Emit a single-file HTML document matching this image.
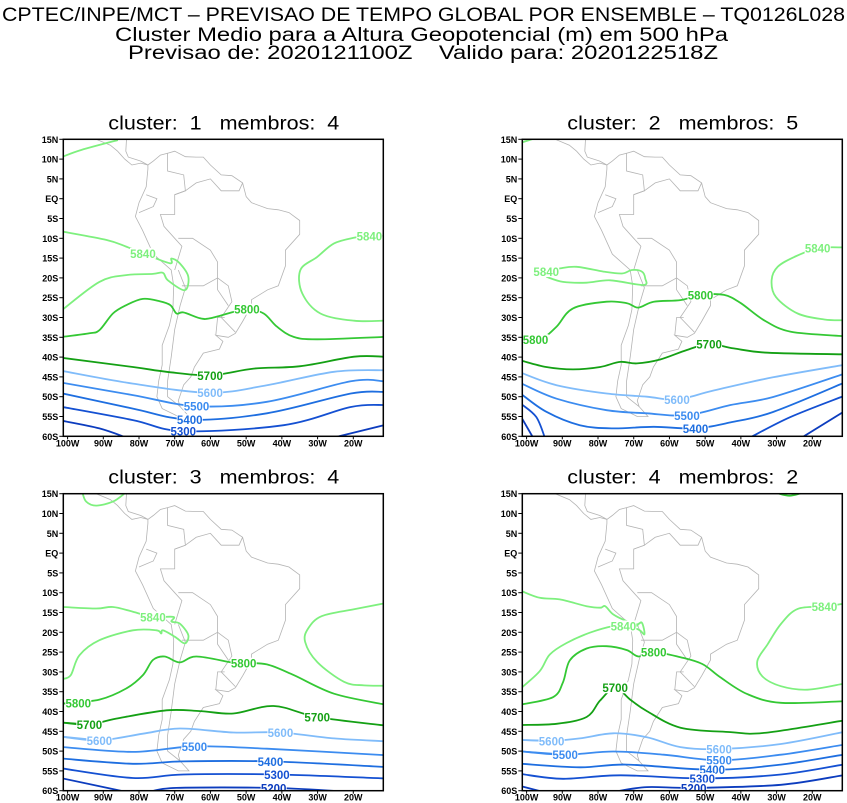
<!DOCTYPE html>
<html><head><meta charset="utf-8">
<style>
body{margin:0;background:#fff;}
svg{display:block;font-family:"Liberation Sans",sans-serif;}
</style></head>
<body>
<svg id="chart" width="847" height="803" viewBox="0 0 847 803" xmlns="http://www.w3.org/2000/svg">
<rect width="847" height="803" fill="#fff"/>
<g font-size="19" fill="#000">
<text x="2" y="21" textLength="843" lengthAdjust="spacingAndGlyphs">CPTEC/INPE/MCT – PREVISAO DE TEMPO GLOBAL POR ENSEMBLE – TQ0126L028</text>
<text x="115" y="41" textLength="613" lengthAdjust="spacingAndGlyphs">Cluster Medio para a Altura Geopotencial (m) em 500 hPa</text>
<text x="128" y="59" textLength="590" lengthAdjust="spacingAndGlyphs" xml:space="preserve" style="white-space:pre">Previsao de: 2020121100Z    Valido para: 2020122518Z</text>
</g>
<g id="panels"></g>
</svg>
<script>
const latTicks = [15,10,5,0,-5,-10,-15,-20,-25,-30,-35,-40,-45,-50,-55,-60];
const latTickLabels = ["15N","10N","5N","EQ","5S","10S","15S","20S","25S","30S","35S","40S","45S","50S","55S","60S"];
const lonTicks = [-100,-90,-80,-70,-60,-50,-40,-30,-20];
const lonTickLabels = ["100W","90W","80W","70W","60W","50W","40W","30W","20W"];
const clusterIds = [1,2,3,4];
const memberCounts = [4,5,4,2];

// contours: [level, [[lon,lat],...], labelIndex or -1]
const c1 = [
[5840,[[-101.4,10.6],[-96.2,12.3],[-85.9,14.8]],-1],
[5840,[[-101.4,-8.3],[-89.2,-10.4],[-83.6,-12.1],[-78.9,-13.8],[-71.4,-16.3],[-70.9,-15.1],[-68.6,-16.3],[-66.2,-19.7],[-67.2,-23.1],[-71.9,-20.6],[-73.3,-18.7],[-76.1,-19],[-83.6,-19.3],[-91.1,-21],[-101.4,-28]],3],
[5840,[[-11.4,-9.4],[-15.5,-9.4],[-19.5,-9.8],[-25.4,-11.3],[-30.1,-14.7],[-34.8,-18],[-34.3,-23.9],[-29.2,-29],[-19.8,-30.8],[-11.4,-30.8]],1],
[5800,[[-101.4,-34.9],[-93.9,-34],[-91.1,-33.2],[-87.3,-29],[-83.6,-26.9],[-78.9,-25.3],[-74.2,-25.9],[-71.2,-26.9],[-69.5,-29],[-67.6,-28.7],[-62.9,-30.2],[-60.1,-30.2],[-53.6,-28.6],[-49.8,-27.9],[-45.1,-29],[-41.4,-32.3],[-36.7,-34.9],[-30.1,-35.5],[-11.4,-34.9]],13],
[5700,[[-101.4,-40.2],[-81.7,-42.5],[-72.3,-43.7],[-60.1,-44.6],[-47.9,-42.9],[-34.8,-42.3],[-19.8,-39.9],[-11.4,-39.9]],3],
[5600,[[-101.4,-43.5],[-81.7,-46.7],[-60.1,-49],[-44.2,-47.1],[-25.4,-43.7],[-11.4,-43.3]],2],
[5500,[[-101.4,-46.5],[-81.7,-49.6],[-63.9,-52.4],[-44.2,-51.3],[-20.7,-46.1],[-11.4,-46.1]],2],
[5400,[[-101.4,-49.2],[-81.7,-53],[-65.8,-55.8],[-44.2,-54.2],[-20.7,-49.2],[-11.4,-48.8]],2],
[5300,[[-101.4,-52.6],[-81.7,-55.9],[-67.6,-58.7],[-39.5,-57.2],[-20.7,-52.6],[-11.4,-52.1]],2],
[5200,[[-101.4,-56.1],[-91.1,-58],[-83.6,-60.3]],-1],
[5200,[[-25.4,-60.3],[-11.4,-57.2]],-1]
];
const c2 = [
[5840,[[-101.4,14.2],[-98.2,15.1]],-1],
[5840,[[-94.5,-19.7],[-89.8,-21],[-83.2,-21.2],[-76.6,-20.6],[-67.3,-21.8],[-66.8,-20.1],[-67.7,-18.4],[-70.5,-18],[-73.3,-18.9],[-78.5,-18.4],[-86,-17.2],[-90.7,-17.6],[-94.5,-18.4],[-95.2,-19]],12],
[5840,[[-11.4,-12.3],[-18.5,-12.5],[-25,-14.7],[-29.7,-17.2],[-31.4,-20.6],[-30.2,-24.8],[-24.1,-29],[-16.6,-30.5],[-11.4,-30.7]],1],
[5800,[[-101.4,-35.9],[-95.4,-35],[-91.6,-32.3],[-87,-27.7],[-77.6,-26],[-71.9,-26.4],[-68.7,-27.5],[-64.4,-26],[-56.9,-25.6],[-51.3,-24.3],[-44.7,-24.3],[-40,-26.4],[-33.5,-30.7],[-26,-33.6],[-11.4,-34.7]],9],
[5800,[[-101.4,-35.9],[-97.5,-35.6]],1],
[5700,[[-101.4,-40.9],[-94.5,-42.5],[-87,-43.1],[-79.4,-42.5],[-73.8,-41.2],[-69.1,-41.6],[-62.6,-40.6],[-55.1,-38.2],[-48.9,-36.7],[-42,-37.8],[-32.5,-38.9],[-11.4,-39.3]],8],
[5600,[[-101.4,-44],[-91.6,-47.1],[-77.6,-49.2],[-66.3,-50],[-57.9,-50.7],[-47.5,-48.4],[-31,-45.1],[-11.4,-42]],4],
[5500,[[-101.4,-46.7],[-91.6,-50.5],[-77.6,-53.4],[-66.3,-54.2],[-55.1,-54.7],[-42.9,-52.1],[-31.1,-50.1],[-11.4,-44.3]],4],
[5400,[[-101.4,-49.4],[-94.5,-53.8],[-85.1,-57.2],[-75.7,-58],[-64.4,-57.6],[-52.7,-58],[-42.9,-56.5],[-31.1,-53.9],[-11.4,-46.6]],5],
[5300,[[-101.4,-51.9],[-97.3,-55.1],[-94.9,-60.3]],-1],
[5200,[[-101.4,-55.3],[-98.2,-60.3]],-1],
[5300,[[-37.4,-60.3],[-26.3,-55.2],[-11.4,-49.9]],-1],
[5200,[[-22.9,-60.3],[-11.4,-53.9]],-1]
];
const c3 = [
[5840,[[-95.8,15.1],[-94.8,13],[-92,12],[-87.3,13],[-84,15.1]],-1],
[5840,[[-101.4,-13.6],[-92,-14],[-87.3,-13.6],[-81.7,-14.8],[-76.1,-16.1],[-70.4,-16.1],[-70.9,-17.3],[-68.6,-17.8],[-66.2,-20.7],[-67.2,-22.8],[-70,-21.1],[-73.3,-19.5],[-73.8,-20.3],[-75.1,-19.5],[-81.7,-19.5],[-91.1,-22],[-96.7,-25.8],[-99.1,-30.8],[-101.4,-31.8]],4],
[5840,[[-11.4,-12.7],[-19.8,-14.2],[-28.8,-15.9],[-32.6,-19],[-33.5,-22.4],[-30.1,-27.5],[-22.6,-32.5],[-17,-33.4],[-11.4,-33.5]],-1],
[5800,[[-101.4,-38],[-91.1,-37],[-83.6,-34.2],[-78.9,-30.8],[-76.1,-27],[-72.8,-26.1],[-68.6,-27.6],[-63.9,-26.1],[-53.6,-27.7],[-50.7,-27.8],[-44.2,-28.1],[-36.7,-30.8],[-25.4,-35.5],[-11.4,-38.2]],9],
[5800,[[-101.4,-38],[-97,-37.9]],1],
[5700,[[-101.4,-42.8],[-93.9,-43.3],[-86.4,-41.8],[-72.3,-39.7],[-62.9,-39.9],[-53.6,-40.5],[-42.3,-38.6],[-30.1,-41.4],[-11.4,-43.5]],7],
[5700,[[-101.4,-42.8],[-93.9,-43.3]],1],
[5600,[[-101.4,-46.4],[-91.1,-47.3],[-78.9,-45.6],[-68.6,-44.3],[-53.6,-45.3],[-40.4,-45.3],[-25.4,-46.8],[-11.4,-47.5]],5],
[5600,[[-101.4,-46.4],[-91.1,-47.3]],1],
[5500,[[-101.4,-49],[-81.7,-50.2],[-64.5,-48.8],[-44.2,-49.4],[-11.4,-51]],2],
[5400,[[-101.4,-51.9],[-81.7,-53.2],[-67.6,-52.6],[-43.2,-52.6],[-11.4,-54]],3],
[5300,[[-101.4,-54.4],[-81.7,-56.8],[-67.6,-55.9],[-41.4,-55.9],[-11.4,-56.9]],3],
[5200,[[-101.4,-56.9],[-83.6,-60.3]],-1],
[5200,[[-77,-60.3],[-69.5,-59.3],[-42.3,-59.3],[-20.7,-60.3]],2]
];
const c4 = [
[5800,[[-29.7,15.1],[-26.4,14.5],[-23.2,15.1]],-1],
[5840,[[-101.4,-9.6],[-96.3,-11.3],[-90.7,-11.7],[-83.2,-13.4],[-79.4,-13.8],[-78,-13.4],[-75.7,-15.5],[-71.9,-17.2],[-69.1,-18],[-67.7,-17.6],[-67,-20.5],[-68.7,-19.3],[-72.9,-18.4],[-75.7,-18.4],[-82.3,-20.1],[-88.8,-22.7],[-93.5,-25.6],[-96.3,-29.8],[-101.4,-34]],-1],
[5840,[[-72.9,-18.4],[-68.7,-18.3]],0],
[5840,[[-11.4,-12.8],[-16.6,-13.5],[-24.1,-14.1],[-28.8,-17.9],[-32.5,-23],[-35.4,-27.3],[-34,-31.1],[-28.8,-33.6],[-21.3,-34.5],[-11.4,-33]],1],
[5800,[[-101.4,-38.2],[-92.6,-36.4],[-89.8,-32.6],[-87.9,-27.1],[-83.2,-24.1],[-77.6,-23.5],[-71.9,-24.5],[-68.7,-26.1],[-64.4,-25],[-56.9,-26.3],[-50.8,-28],[-45.7,-31.4],[-38.2,-35.6],[-28.8,-37.8],[-11.4,-37.4]],8],
[5700,[[-101.4,-43.4],[-91.6,-43.1],[-83.2,-41.4],[-79.4,-37.2],[-75.2,-34],[-71,-37],[-66.3,-39.9],[-56.9,-44.1],[-42.9,-45.2],[-33.5,-45.4],[-11.4,-42.3]],4],
[5600,[[-101.4,-47.2],[-93,-47.4],[-85.1,-46.8],[-75.7,-45.5],[-66.3,-46.5],[-56.9,-49],[-46.1,-49.5],[-28.8,-48.2],[-11.4,-45.2]],6],
[5600,[[-101.4,-47.2],[-93,-47.4]],1],
[5500,[[-101.4,-50.1],[-89.2,-50.9],[-75.7,-50.1],[-61.6,-50.9],[-46.1,-52.3],[-28.8,-50.9],[-11.4,-48.4]],4],
[5500,[[-101.4,-50.1],[-89.2,-50.9]],1],
[5400,[[-101.4,-53.2],[-85.1,-54.1],[-71.9,-53.4],[-48,-54.7],[-28.8,-53.4],[-11.4,-50.9]],3],
[5300,[[-101.4,-55.8],[-89.8,-57],[-73.8,-56.1],[-50.8,-56.9],[-28.8,-55.9],[-11.4,-53.4]],3],
[5200,[[-101.4,-58.9],[-95.4,-60.3]],-1],
[5200,[[-75.7,-60.3],[-66.3,-59.1],[-53.2,-59.3],[-28.8,-58.5],[-11.4,-56.1]],2]
];
const panelContours = [c1,c2,c3,c4];

const coastSA = [[-77.5,8.5],[-77.5,7.5],[-78,3],[-80,-1],[-81,-4.5],[-79,-8],[-76,-14],[-71,-18],[-70.3,-22],[-70.5,-28],[-71.5,-32],[-73.5,-37],[-73.5,-42],[-74.5,-46],[-75,-50],[-73.5,-53],[-69,-55],[-66,-55],[-68.5,-52.5],[-69,-51],[-67.5,-47],[-65.5,-45],[-64.5,-42.5],[-62,-39],[-57.5,-38],[-56.5,-36],[-58.5,-34.5],[-55,-35],[-53,-34],[-51,-31],[-48.5,-27],[-48.5,-25.5],[-44,-23],[-41,-22],[-39,-17],[-39,-13],[-35,-9],[-35,-5.5],[-38,-3.5],[-41,-2.8],[-44,-2.5],[-48.5,-1],[-50,0.5],[-51,4],[-54,5.8],[-57,6],[-60,8.5],[-62,10.5],[-64,10.5],[-67,10.6],[-70,12],[-72,11.5],[-74,11],[-76,9.5],[-77.5,8.5]];
const coastCA = [[-92,15],[-88,13.5],[-86,12],[-84,10],[-82,8.5],[-79.5,9],[-77.5,8.5]];
const coastCA2 = [[-83.5,15],[-83.7,12],[-83,10.5],[-79.5,9.5],[-77.5,8.5]];
const borders = [
[[-70,-18],[-68,-12],[-70,-10],[-73,-7],[-74,-4],[-70,-4],[-70,1],[-67,2],[-64,4],[-60,5],[-57,2],[-52,2],[-51,4]],
[[-69,-10],[-65,-10],[-60,-13],[-58,-16],[-58,-20],[-55,-22],[-54,-26],[-57,-30],[-53,-33.7]],
[[-68,-22],[-62,-22],[-58,-20],[-58,-23],[-55,-27]],
[[-80,-3.5],[-76,-2],[-75,0],[-78,1]],
[[-69,-18],[-67,-22.5],[-68.5,-27],[-70,-33],[-71,-40],[-72,-46],[-72,-50],[-68.5,-52.5]],
[[-58.5,-34.5],[-58,-30],[-56,-30]],
[[-72,11.5],[-72,7],[-67.5,6],[-67,2],[-70,1]]
];

const panelBoxes = [[63.3,139.3],[522.3,139.3],[63.3,493.7],[522.3,493.7]];
const colors = {5840:'#7ef07e',5800:'#34c834',5700:'#14a014',5600:'#80bcfa',5500:'#3c8cf0',5400:'#1e6ee0',5300:'#1450d2',5200:'#0c3cbe'};
const W = 320, H = 297, lonMin=-101.2, lonMax=-11.6, latMin=-60, latMax=15;
const NS='http://www.w3.org/2000/svg';
function mk(t,a,p){const e=document.createElementNS(NS,t);for(const k in a)e.setAttribute(k,a[k]);p.appendChild(e);return e;}
function smooth(pts){
  if(pts.length<3) return 'M'+pts.map(p=>p[0].toFixed(1)+','+p[1].toFixed(1)).join('L');
  let d='M'+pts[0][0].toFixed(1)+','+pts[0][1].toFixed(1);
  for(let i=0;i<pts.length-1;i++){
    const p0=pts[i-1]||pts[i],p1=pts[i],p2=pts[i+1],p3=pts[i+2]||p2;
    const c1=[p1[0]+(p2[0]-p0[0])/6,p1[1]+(p2[1]-p0[1])/6];
    const c2=[p2[0]-(p3[0]-p1[0])/6,p2[1]-(p3[1]-p1[1])/6];
    d+='C'+c1.map(v=>v.toFixed(1))+' '+c2.map(v=>v.toFixed(1))+' '+p2[0].toFixed(1)+','+p2[1].toFixed(1);
  }
  return d;
}
const root=document.getElementById('panels');
panelBoxes.forEach((b,pi)=>{
  const [x0,y0]=b;
  const xs=lon=>x0+(lon-lonMin)/(lonMax-lonMin)*W;
  const ys=lat=>y0+(latMax-lat)/(latMax-latMin)*H;
  const g=mk('g',{},root);
  
  
  const t=mk('text',{x:x0+W/2-115,y:y0-10,'font-size':'19',fill:'#000',textLength:'231',lengthAdjust:'spacingAndGlyphs'},g);
  t.textContent='cluster:  '+clusterIds[pi]+'   membros:  '+memberCounts[pi];
  t.style.whiteSpace='pre';
  
  
  const cid='clip'+pi;
  const cp=mk('clipPath',{id:cid},g);mk('rect',{x:x0,y:y0,width:W,height:H},cp);
  const map=mk('g',{'clip-path':'url(#'+cid+')'},g);
  
  
  [coastSA,coastCA,coastCA2].concat(borders).forEach(line=>{
    const p=mk('path',{d:'M'+line.map(q=>xs(q[0]).toFixed(1)+','+ys(q[1]).toFixed(1)).join('L'),fill:'none',stroke:'#b4b4b4','stroke-width':'0.8'},map);
    
    
  });
  const labels=[];
  panelContours[pi].forEach(c=>{
    const [lev,pts,li]=c;
    const px=pts.map(q=>[xs(q[0]),ys(q[1])]);
    const p=mk('path',{d:smooth(px),fill:'none',stroke:colors[lev],'stroke-width':'1.8'},map);
    
    
    if(li>=0) labels.push([lev,px[li]]);
  });
  labels.forEach(l=>{
    const [lev,pt]=l;
    mk('rect',{x:pt[0]-13,y:pt[1]-5.5,width:26,height:11,fill:'#fff'},map);
    const tx=mk('text',{x:pt[0],y:pt[1]+4.5,'text-anchor':'middle','font-size':'11.5','font-weight':'bold',fill:colors[lev]},map);
    tx.textContent=lev;
    
    
  });
  const fr=mk('rect',{x:x0,y:y0,width:W,height:H,fill:'none',stroke:'#000','stroke-width':'1.5'},g);
  
  
  latTicks.forEach((lt,i)=>{
    const y=ys(lt);
    mk('line',{x1:x0-4,x2:x0,y1:y,y2:y,stroke:'#000','stroke-width':'1'},g);
    const tx=mk('text',{x:x0-5,y:y+3.5,'text-anchor':'end','font-size':'9','font-weight':'bold',fill:'#000'},g);
    tx.textContent=latTickLabels[i];
    
    
  });
  lonTicks.forEach((ln,i)=>{
    const x=xs(ln);
    mk('line',{x1:x,x2:x,y1:y0+H,y2:y0+H+3,stroke:'#000','stroke-width':'1'},g);
    const tx=mk('text',{x:x,y:y0+H+10,'text-anchor':'middle','font-size':'9','font-weight':'bold',fill:'#000'},g);
    tx.textContent=lonTickLabels[i];
    
    
  });
});
</script>
</body></html>
